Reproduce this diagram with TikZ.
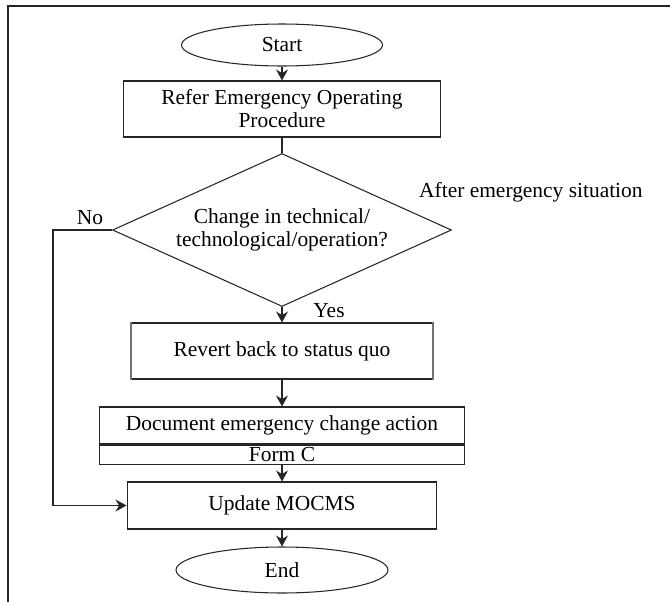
\documentclass[tikz,border=0pt]{standalone}
\usepackage{fontspec}
\setmainfont{Liberation Serif}
\usepackage{tikz}
\usetikzlibrary{arrows.meta}
\usetikzlibrary{shapes.geometric}
\usetikzlibrary{positioning}
\tikzset{
  >={Stealth[length=2.2mm,width=2.4mm]},
  line/.style={draw=black!85,line width=0.6pt},
  procbox/.style={line,rectangle,align=center,inner sep=0pt},
  termnode/.style={line,ellipse,inner sep=0pt},
  decnode/.style={line,diamond,align=center,inner sep=0pt,aspect=2.2},
  sideline/.style={draw=black!55,line width=1.6pt},
  flow/.style={line,->}
}
\begin{document}
\begin{tikzpicture}[x=0.02cm,y=-0.02cm,font=\fontsize{12.2pt}{13.1pt}\selectfont]
  \useasboundingbox (0,0) rectangle (670,602);
  \draw[line] (8,602) -- (8,6) -- (670,6);
  \node (start) at (282,45) [termnode,minimum width=4.02cm,minimum height=0.84cm] {Start};
  \node (refer) at (282,109) [procbox,minimum width=6.34cm,minimum height=1.12cm] {Refer Emergency Operating\\Procedure};
  \node (chg) at (282,230) [decnode,minimum width=6.78cm,minimum height=3.06cm] {Change in technical/\\technological/operation?};
  \node (revert) at (282,351) [procbox,minimum width=6.02cm,minimum height=1.12cm] {Revert back to status quo};
  \draw[sideline] (revert.north west) -- (revert.south west);
  \draw[sideline] (revert.north east) -- (revert.south east);
  \node (doc) at (282,425.5) [procbox,minimum width=7.32cm,minimum height=0.74cm] {Document emergency change action};
  \node (form) [procbox,below=0pt of doc,minimum width=7.32cm,minimum height=0.38cm] {Form C};
  \node (upd) at (282,505.5) [procbox,minimum width=6.2cm,minimum height=0.94cm] {Update MOCMS};
  \node (end) at (282,570) [termnode,minimum width=4.24cm,minimum height=0.92cm] {End};
  \node (no)    at (90,218) {No};
  \node (yes)   at (329,311) {Yes};
  \node (after) at (413,192) [anchor=west] {After emergency situation};
  \coordinate (nobend) at (53,230);
  \draw[flow] (start) -- (refer);
  \draw[line] (refer) -- (chg);
  \draw[flow] (chg) -- (revert);
  \draw[flow] (revert) -- (doc);
  \draw[flow] (form) -- (upd);
  \draw[flow] (upd) -- (end);
  \draw[flow] (chg.west) -- (nobend) |- (upd.west);
\end{tikzpicture}
\end{document}
